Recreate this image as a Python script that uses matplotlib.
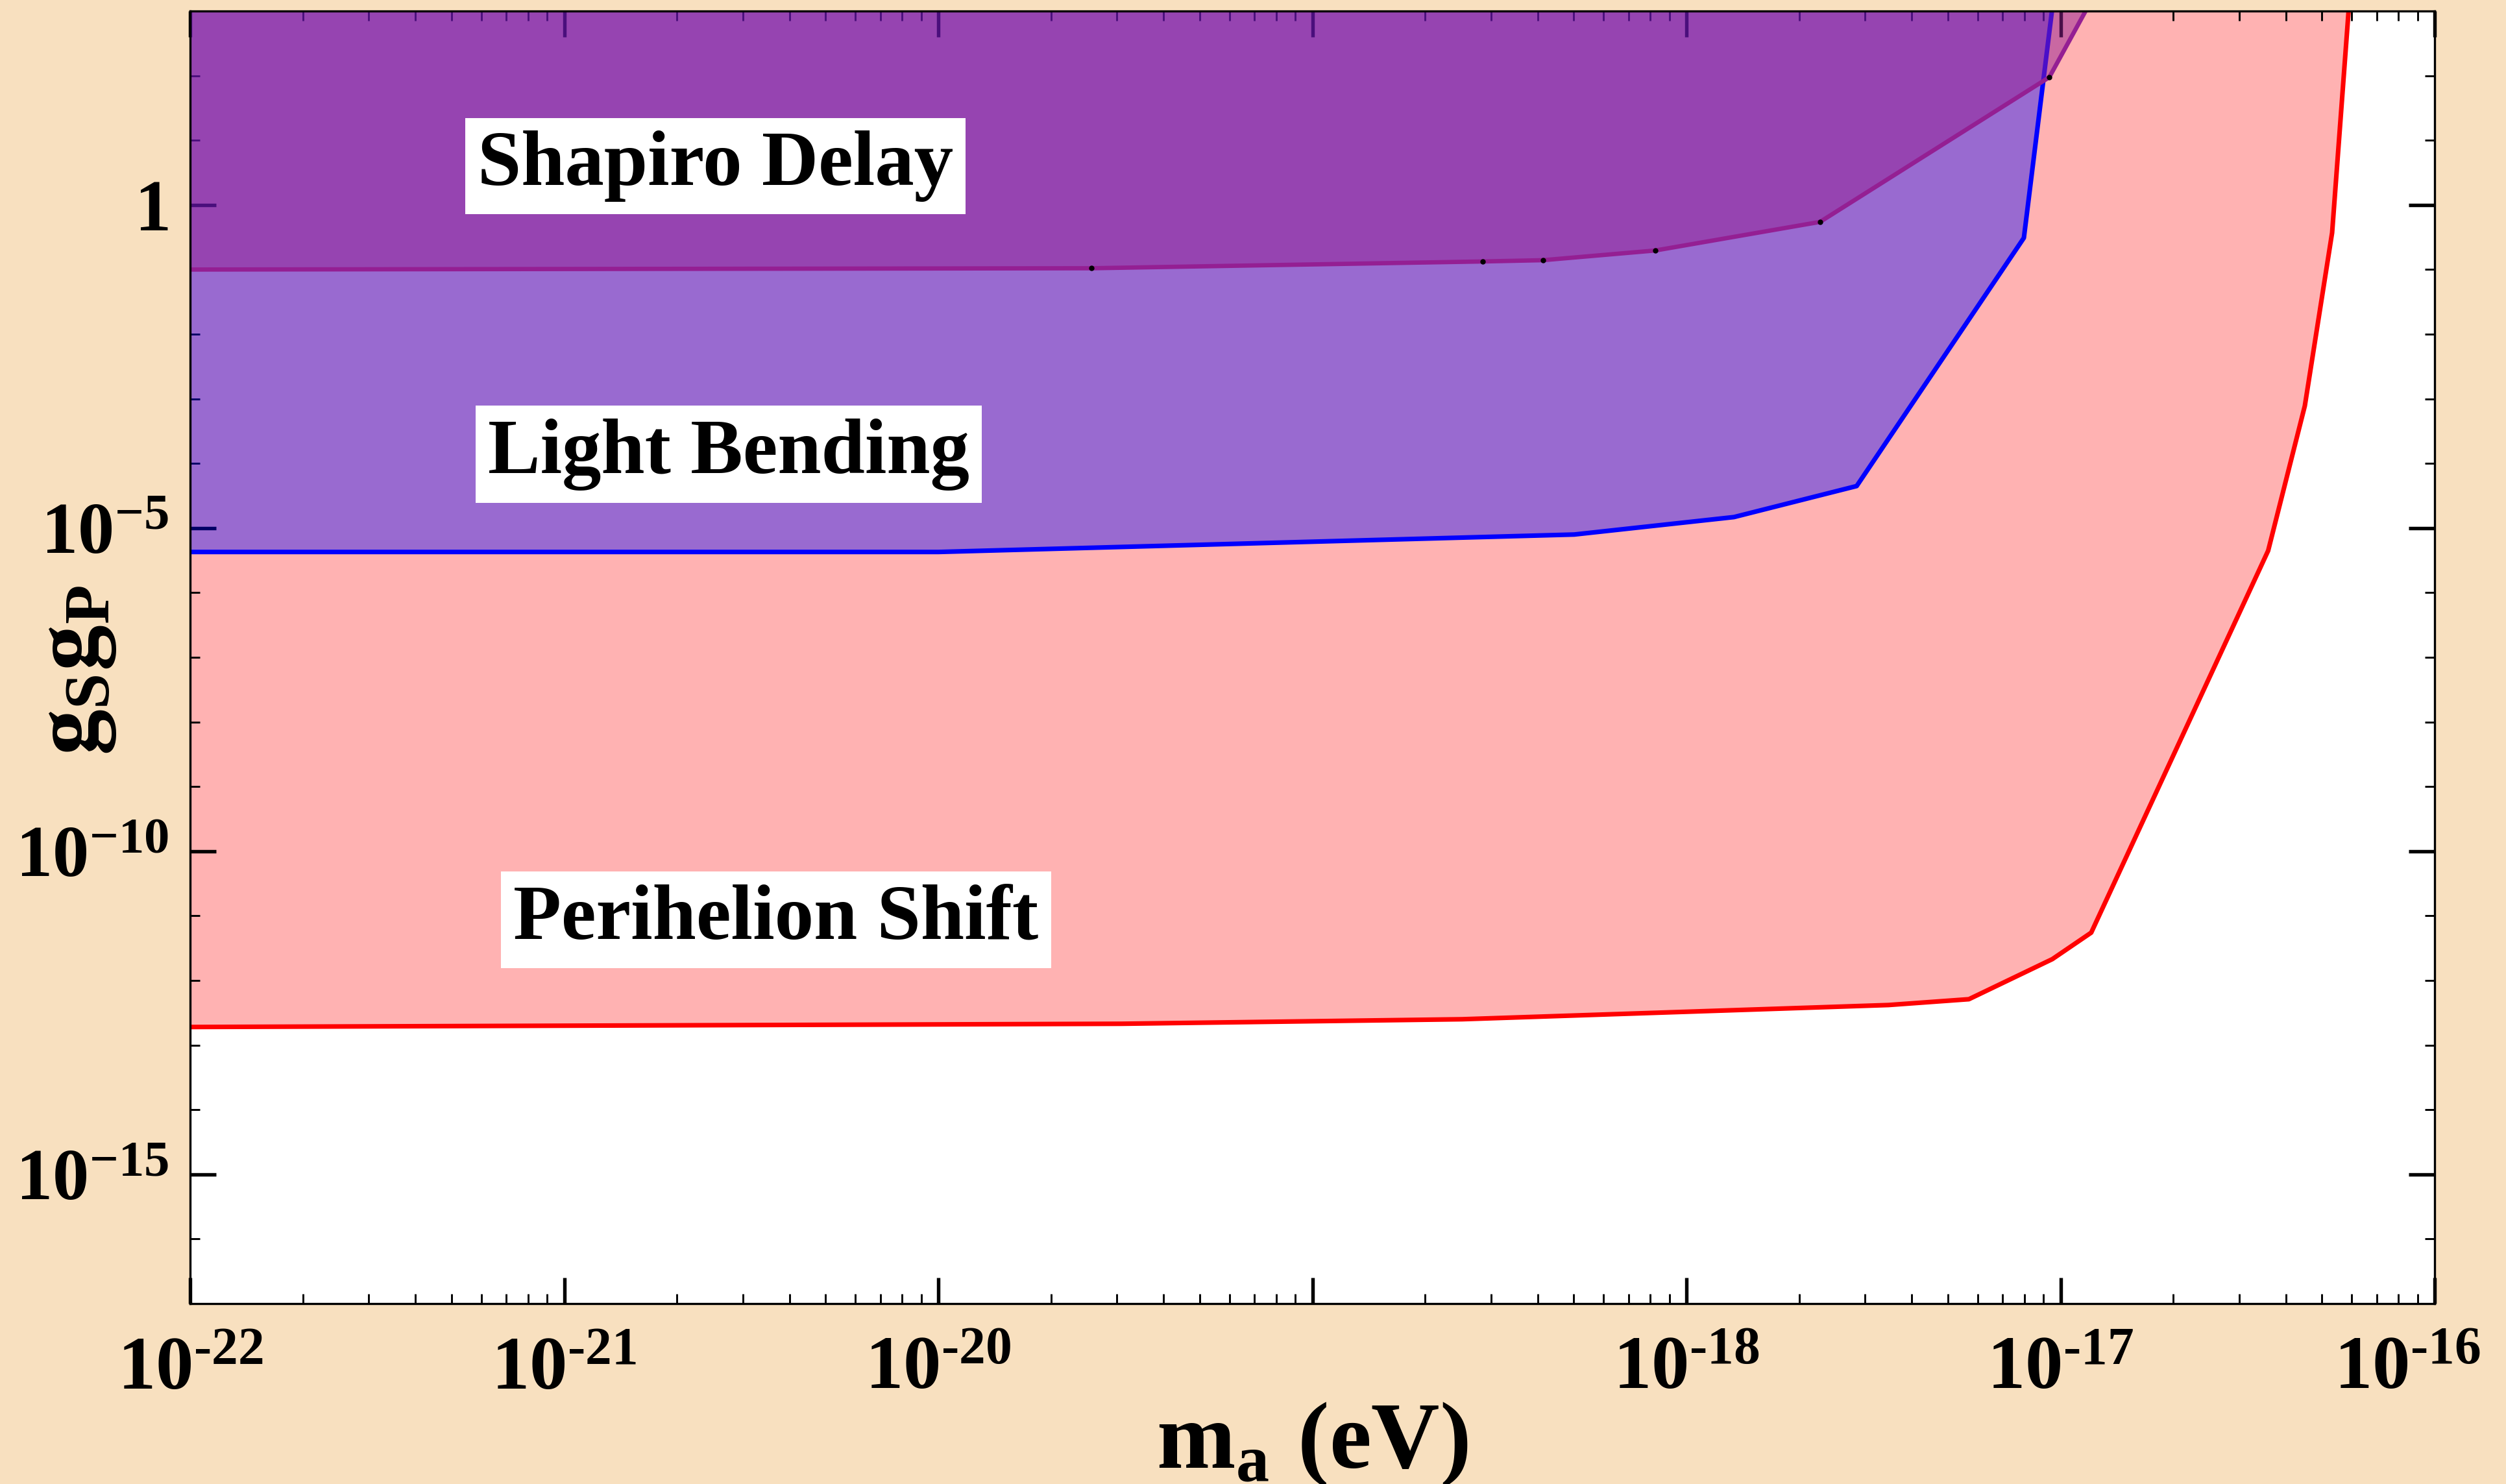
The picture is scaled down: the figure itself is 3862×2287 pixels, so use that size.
import numpy as np
import matplotlib.pyplot as plt
from matplotlib.ticker import FixedLocator, FixedFormatter, NullFormatter
from matplotlib.transforms import ScaledTranslation

plt.rcParams['font.family'] = ['Liberation Serif', 'DejaVu Serif']
plt.rcParams['font.weight'] = 'bold'
plt.rcParams['mathtext.fontset'] = 'custom'
plt.rcParams['mathtext.rm'] = 'Liberation Serif:bold'
plt.rcParams['mathtext.it'] = 'Liberation Serif:bold'
plt.rcParams['mathtext.bf'] = 'Liberation Serif:bold'

# boundaries, stored as log10 values
peri_log_m = [-22.0, -19.51, -18.60, -17.46, -17.245, -17.022, -16.918, -16.445, -16.347, -16.274, -16.23]
peri_log_g = [-12.72, -12.67, -12.60, -12.38, -12.29, -11.67, -11.26, -5.35, -3.11, -0.43, 3.0]

bend_log_m = [-22.0, -20.0, -18.30, -17.873, -17.545, -17.098, -17.023]
bend_log_g = [-5.37, -5.37, -5.10, -4.83, -4.35, -0.51, 3.0]

shap_log_m = [-22.0, -19.59, -18.545, -18.383, -18.083, -17.643, -17.030, -16.933]
shap_log_g = [-1.0, -0.98, -0.875, -0.855, -0.705, -0.263, 1.976, 3.0]

x_tick_exp = [-22, -21, -20, -19, -18, -17, -16]
x_tick_text = ['-22', '-21', '-20', '', '-18', '-17', '-16']
y_tick_exp = [-15, -10, -5, 0]

BG = '#F8E0BF'
SHAP = '#941F93'

fig = plt.figure(figsize=(3862 / 300, 2287 / 300), dpi=300, facecolor=BG)
ax = fig.add_axes([293 / 3862, 1 - 2009 / 2287, (3752 - 293) / 3862, (2009 - 17) / 2287])
ax.set_facecolor('white')
ax.set_xscale('log')
ax.set_yscale('log')
ax.set_xlim(1e-22, 1e-16)
ax.set_ylim(1e-17, 1e3)

top = 1e3
pm, pg = 10.0 ** np.array(peri_log_m), 10.0 ** np.array(peri_log_g)
bm, bg = 10.0 ** np.array(bend_log_m), 10.0 ** np.array(bend_log_g)
sm, sg = 10.0 ** np.array(shap_log_m), 10.0 ** np.array(shap_log_g)

ax.fill_between(pm, pg, top, facecolor='red', alpha=0.3, linewidth=0, zorder=1)
ax.fill_between(bm, bg, top, facecolor='blue', alpha=0.4, linewidth=0, zorder=2)
ax.plot(pm, pg, color='red', lw=1.7, zorder=3)
ax.plot(bm, bg, color='blue', lw=1.7, zorder=3)
ax.fill_between(sm, sg, top, facecolor=SHAP, alpha=0.5, linewidth=0, zorder=4)
ax.plot(sm, sg, color=SHAP, lw=1.6, zorder=5)
ax.plot(sm[1:-1], sg[1:-1], 'o', color='black', ms=1.0, zorder=6)

# region labels
box = dict(facecolor='white', edgecolor='none', boxstyle='square,pad=0.16')
for txt, xf, yf in [('Shapiro Delay', 0.234, 0.880),
                    ('Light Bending', 0.240, 0.657),
                    ('Perihelion Shift', 0.261, 0.297)]:
    ax.text(xf, yf, txt, transform=ax.transAxes, ha='center', va='center',
            fontsize=29, fontweight='bold', bbox=box, zorder=7)

# ticks
ax.xaxis.set_major_locator(FixedLocator([10.0 ** e for e in x_tick_exp]))
ax.xaxis.set_major_formatter(FixedFormatter(
    ['' if t == '' else r'$\mathrm{10^{' + t.replace('-', '\u2010') + '}}$' for t in x_tick_text]))
x_minor = [k * 10.0 ** e for e in x_tick_exp[:-1] for k in range(2, 10)]
ax.xaxis.set_minor_locator(FixedLocator(x_minor))
ax.xaxis.set_minor_formatter(NullFormatter())

ax.yaxis.set_major_locator(FixedLocator([10.0 ** e for e in y_tick_exp]))
ax.yaxis.set_major_formatter(FixedFormatter(
    [r'$\mathrm{1}$' if e == 0 else r'$\mathrm{10^{%d}}$' % e for e in y_tick_exp]))
y_minor = [10.0 ** e for e in range(-17, 4) if e not in y_tick_exp]
ax.yaxis.set_minor_locator(FixedLocator(y_minor))
ax.yaxis.set_minor_formatter(NullFormatter())

ax.tick_params(which='both', direction='in', top=True, right=True, colors='black')
ax.tick_params(which='major', length=9.6, width=1.3)
ax.tick_params(which='minor', length=3.6, width=0.7)
ax.tick_params(axis='x', which='major', labelsize=28, pad=12)
ax.tick_params(axis='y', which='major', labelsize=27, pad=8)

# the last x label sits pulled in so it stays inside the figure
last = ax.xaxis.get_major_ticks()[-1].label1
last.set_transform(last.get_transform() + ScaledTranslation(-0.14, 0, fig.dpi_scale_trans))

for spine in ax.spines.values():
    spine.set_linewidth(0.8)
    spine.set_zorder(10)

ax.set_xlabel(r'$\mathrm{m_a\ (eV)}$', fontsize=35)
ax.xaxis.set_label_coords(0.5, -0.075)
ax.set_ylabel(r'$\mathrm{g_S g_P}$', fontsize=34)
ax.yaxis.set_label_coords(-0.032, 0.49)

fig.savefig('out.png', dpi=300, facecolor=fig.get_facecolor())
